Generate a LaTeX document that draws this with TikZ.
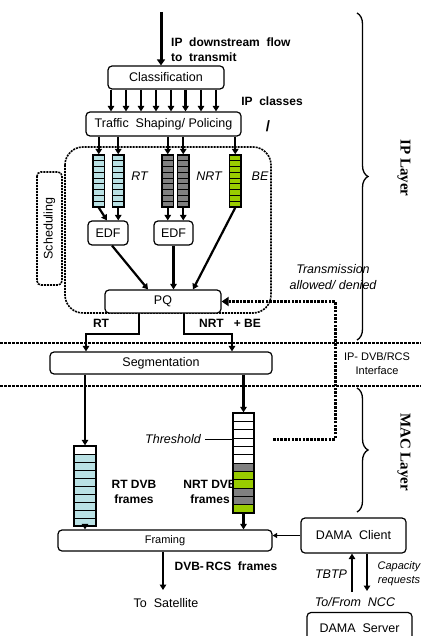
\documentclass[tikz,border=0pt]{standalone}
\usepackage{fontspec}
\setmainfont{Liberation Sans}
\newfontfamily\layerfont{Liberation Serif}
\usetikzlibrary{arrows.meta,decorations.pathreplacing,calc}
\definecolor{qblue}{RGB}{185,225,228}
\definecolor{qgray}{RGB}{128,128,128}
\definecolor{qgreen}{RGB}{153,204,0}
\newcommand\mymain{\fontsize{12.5}{14}\selectfont}
\newcommand\mybold{\fontsize{12}{15}\selectfont\bfseries}
\newcommand\mysmall{\fontsize{11}{14}\selectfont}
\newcommand\myit{\fontsize{12.5}{16}\selectfont\itshape}
\newcommand\mylayer{\fontsize{15}{17}\selectfont\layerfont\bfseries}
\newcommand\qcells[5]{%
  \foreach \cc [count=\ii from 0] in {#5} {%
    \filldraw[fill=\cc, draw=black, line width=0.9pt] (#1,{#2+\ii*#4}) rectangle ++(#3,#4);
  }%
}
\begin{document}
\begin{tikzpicture}[x=1pt,y=-1pt,
  box/.style={draw, line width=1.2pt, rounded corners=4pt, fill=white, inner sep=0pt, font=\mymain},
  qbox/.style={draw, line width=1.3pt, inner sep=0pt},
  arr/.style={line width=2.2pt, -{Triangle[width=6.5pt,length=5.5pt]}},
  bigarr/.style={line width=3pt, -{Triangle[width=8pt,length=6pt]}},
  thinarr/.style={line width=1.3pt, -{Triangle[width=5pt,length=4.5pt]}},
  fbarr/.style={line width=3pt, dash pattern=on 2.5pt off 1.2pt, -{Triangle[width=9pt,length=7pt]}},
  hdash/.style={line width=1.5pt, dash pattern=on 3pt off 1pt},
  sdash/.style={line width=1.6pt, dash pattern=on 2pt off 1pt},
  bracestyle/.style={decorate, decoration={brace, amplitude=11pt}, line width=1.3pt},
  lbl/.style={inner sep=1pt}
]
\useasboundingbox (0,0) rectangle (421,636);
\clip (0,0) rectangle (421,636);

% horizontal interface lines
\coordinate (h1a) at (0,343); \coordinate (h1b) at (421,343);
\coordinate (h2a) at (0,386); \coordinate (h2b) at (421,386);
\draw[hdash] (h1a) -- (h1b);
\draw[hdash] (h2a) -- (h2b);

% scheduling region
\draw[sdash, rounded corners=18pt] (65,147) rectangle (271,313);
\node[draw, sdash, rounded corners=4pt, rotate=90, minimum width=113pt, minimum height=25pt, inner sep=0pt, font=\mymain] (schb) at (49.5,228.5) {Scheduling};

% boxes
\node[box, minimum width=116pt, minimum height=23pt] (cls) at (166,77.5) {Classification};
\node[box, minimum width=155pt, minimum height=24pt] (tsp) at (163.5,124) {Traffic\ \ Shaping/ Policing};
\node[box, minimum width=40pt, minimum height=24pt] (edf1) at (108,233) {EDF};
\node[box, minimum width=39pt, minimum height=24pt] (edf2) at (173.5,233) {EDF};
\node[box, minimum width=116pt, minimum height=23pt] (pq) at (163,301.5) {PQ};
\node[box, minimum width=222pt, minimum height=22pt] (seg) at (161,363) {Segmentation};
\node[box, font=\mysmall, minimum width=214pt, minimum height=21pt] (frm) at (165,540.5) {Framing};
\node[box, minimum width=105pt, minimum height=35pt] (dc) at (353.5,535.5) {DAMA\ \ Client};
\node[box, minimum width=105pt, minimum height=32pt] (ds) at (359.5,628.5) {DAMA\ \ Server};

% IP queues
\qcells{93}{155}{11.5}{5.78}{qblue,qblue,qblue,qblue,qblue,qblue,qblue,qblue,qblue}
\node[qbox, minimum width=11.5pt, minimum height=52pt] (q1) at (98.75,181) {};
\qcells{112.5}{155}{11.5}{5.78}{qblue,qblue,qblue,qblue,qblue,qblue,qblue,qblue,qblue}
\node[qbox, minimum width=11.5pt, minimum height=52pt] (q2) at (118.25,181) {};
\qcells{162}{155}{11.5}{5.78}{qgray,qgray,qgray,qgray,qgray,qgray,qgray,qgray,qgray}
\node[qbox, minimum width=11.5pt, minimum height=52pt] (q3) at (167.75,181) {};
\qcells{177.5}{155}{11.5}{5.78}{qgray,qgray,qgray,qgray,qgray,qgray,qgray,qgray,qgray}
\node[qbox, minimum width=11.5pt, minimum height=52pt] (q4) at (183.25,181) {};
\qcells{229.5}{155}{11.5}{5.78}{qgreen,qgreen,qgreen,qgreen,qgreen,qgreen,qgreen,qgreen,qgreen}
\node[qbox, minimum width=11.5pt, minimum height=52pt] (q5) at (235.25,181) {};

% labels in IP part
\node[lbl, font=\mybold, align=left, anchor=west] (ipflow) at (170,49.5) {IP\ \ downstream\ \ flow\\to\ \ transmit};
\node[lbl, font=\mybold] (ipcls) at (272,101) {IP\ \ classes};
\node[lbl, font=\fontsize{15}{16}\selectfont\bfseries] (slash) at (268,126) {/};
\node[lbl, font=\myit] (rtl) at (139.5,176) {RT};
\node[lbl, font=\myit] (nrtl) at (209,176) {NRT};
\node[lbl, font=\myit] (bel) at (260,176) {BE};
\node[lbl, font=\mybold] (rtout) at (101,323) {RT};
\node[lbl, font=\mybold] (nrtout) at (230,323) {NRT\ \ \ + BE};
\node[lbl, font=\myit, align=center] (txal) at (333,277) {Transmission\\allowed/ denied};
\node[lbl, font=\mysmall, align=center] (ifc) at (377,363.5) {IP- DVB/RCS\\Interface};
\node[lbl, font=\mylayer, rotate=-90] (ipl) at (404,168) {IP Layer};
\node[lbl, font=\mylayer, rotate=-90] (macl) at (404,452) {MAC Layer};

% arrows IP part
\coordinate (src) at (161,12);
\draw[bigarr] (src) -- (src |- cls.north);
\foreach \x in {111,126,141,156,171,185.5,201,216}
  \draw[arr] (cls.south -| \x,0) -- (tsp.north -| \x,0);
\foreach \q in {q1,q2,q3,q4,q5}
  \draw[arr] (tsp.south -| \q.north) -- (\q.north);
\draw[arr] (q1.south) -- (edf1.north -| 107,0);
\draw[arr] (q2.south) -- (edf1.north -| q2.south);
\draw[arr] (q3.south) -- (edf2.north -| q3.south);
\draw[arr] (q4.south) -- (edf2.north -| q4.south);
\draw[arr] (q5.south) -- (pq.north -| 193,0);
\draw[arr] ($(edf1.south)+(4,0)$) -- (pq.north -| 148,0);
\draw[arr] (edf2.south) -- (pq.north -| edf2.south);
\draw[arr] (pq.south -| 139,0) -- ++(0,20) -| (seg.north -| 86,0);
\draw[arr] (pq.south -| 184,0) -- ++(0,20) -| (seg.north -| 232,0);

% MAC queues
\node[lbl, font=\mybold, align=center] (rtdvb) at (134,492) {RT DVB\\frames};
\node[lbl, font=\mybold, align=center] (nrtdvb) at (210,492) {NRT DVB\\frames};
\qcells{74}{446}{22}{8}{white,qblue,qblue,qblue,qblue,qblue,qblue,qblue,qblue,qblue}
\node[qbox, minimum width=22pt, minimum height=80pt] (rtq) at (85,486) {};
\qcells{233}{413}{21}{8.3333}{white,white,white,white,white,white,qgray,qgreen,qgreen,qgray,qgray,qgreen}
\node[qbox, minimum width=21pt, minimum height=100pt] (nrtq) at (243.5,463) {};

\draw[arr] (seg.south -| rtq.north) -- (rtq.north);
\draw[arr] (seg.south -| nrtq.north) -- (nrtq.north);
\draw[arr] (rtq.south) -- (frm.north -| rtq.south);
\draw[arr] (nrtq.south) -- (frm.north -| nrtq.south);

% threshold and feedback
\node[lbl, font=\myit] (thl) at (173,439) {Threshold};
\draw[line width=0.9pt] ($(thl.east)+(3,0)$) -- (thl.east -| nrtq.west);
\coordinate (thr) at (273,439);
\coordinate (fbc) at (335,301.5);
\draw[fbarr] (thr) -| (fbc) -- (pq.east);

% bottom
\coordinate (sat) at (163,590);
\draw[arr] (frm.south -| sat) -- (sat);
\node[lbl, font=\mymain] (sattxt) at (166,603) {To\ \ Satellite};
\node[lbl, font=\mybold] (dvbrcs) at (226,566) {DVB-\,RCS\ \ frames};
\draw[thinarr] (dc.west) -- (dc.west -| frm.east);
\coordinate (tb) at (352,592);
\draw[arr] (tb) -- (dc.south -| tb);
\coordinate (cr) at (367,591);
\draw[arr] (dc.south -| cr) -- (cr);
\node[lbl, font=\myit] (tbtp) at (331,574) {TBTP};
\node[lbl, font=\mysmall\itshape, align=center] (capreq) at (399,574) {Capacity\\requests};
\node[lbl, font=\myit] (ncc) at (355,602) {To/From\ \ NCC};

% braces
\coordinate (b1t) at (357,13); \coordinate (b1b) at (357,340);
\draw[bracestyle] (b1t) -- (b1b);
\coordinate (b2t) at (357,388); \coordinate (b2b) at (357,512);
\draw[bracestyle] (b2t) -- (b2b);
\end{tikzpicture}
\end{document}
